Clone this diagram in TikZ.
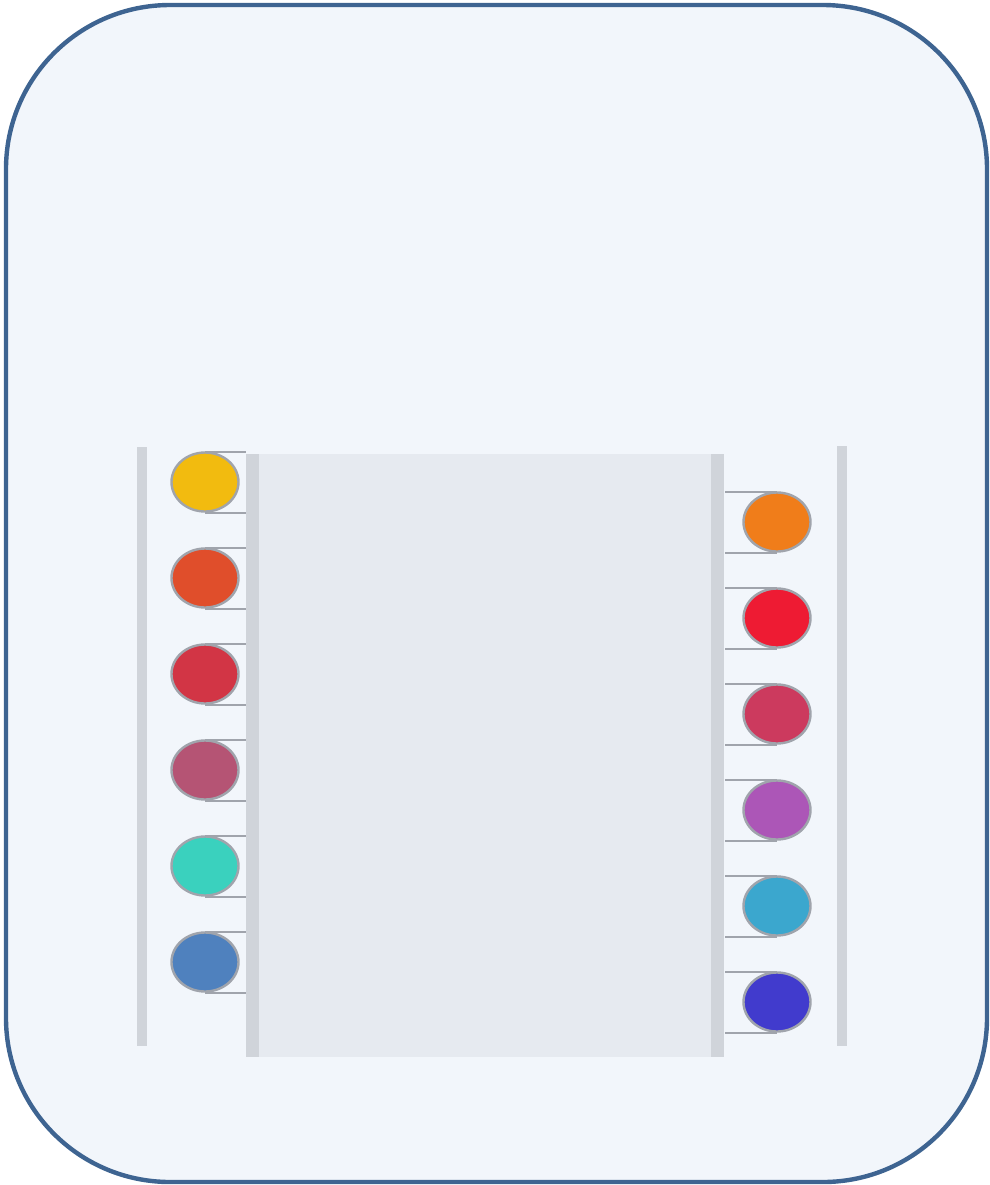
\documentclass[tikz,border=0pt]{standalone}
\usepackage{tikz}
\usetikzlibrary{positioning, shapes.geometric}
\definecolor{FrameBlue}{RGB}{62,100,145}
\definecolor{PanelBg}{RGB}{242,246,251}
\definecolor{RailGrey}{RGB}{208,212,218}
\definecolor{CoreGrey}{RGB}{230,234,240}
\definecolor{TieGrey}{RGB}{160,164,172}
% beads, left column
\definecolor{BeadLa}{RGB}{242,187,15}
\definecolor{BeadLb}{RGB}{224,78,43}
\definecolor{BeadLc}{RGB}{210,53,69}
\definecolor{BeadLd}{RGB}{181,84,116}
\definecolor{BeadLe}{RGB}{58,209,190}
\definecolor{BeadLf}{RGB}{79,129,190}
% beads, right column
\definecolor{BeadRa}{RGB}{240,125,26}
\definecolor{BeadRb}{RGB}{238,27,51}
\definecolor{BeadRc}{RGB}{204,58,94}
\definecolor{BeadRd}{RGB}{172,86,183}
\definecolor{BeadRe}{RGB}{59,167,206}
\definecolor{BeadRf}{RGB}{65,59,205}

\begin{document}
\begin{tikzpicture}[x=0.5pt, y=-0.5pt,
  rail/.style={fill=RailGrey, inner sep=0pt, anchor=north west},
  bead/.style={ellipse, draw=TieGrey, line width=1.2pt, minimum width=33.5pt, minimum height=29.5pt, inner sep=0pt},
  tie/.style={draw=TieGrey, line width=1pt}]
  \useasboundingbox (0,0) rectangle (990,1185);
  \draw[draw=FrameBlue, fill=PanelBg, line width=2.2pt, rounded corners=82pt] (6,5) rectangle (987,1182);

  % rails and core
  \node[rail, minimum width=5pt, minimum height=299.5pt] (outerL) at (137,447) {};
  \node[rail, minimum width=6.5pt, minimum height=301.5pt] (innerL) at (246,454) {};
  \node[fill=CoreGrey, inner sep=0pt, anchor=north west, minimum width=226pt,
    minimum height=301.5pt] (core) at (259,454) {};
  \node[rail, minimum width=6.5pt, minimum height=301.5pt] (innerR) at (711,454) {};
  \node[rail, minimum width=5pt, minimum height=300pt] (outerR) at (837,446) {};

  % left beads
  \foreach \c [count=\i] in {BeadLa,BeadLb,BeadLc,BeadLd,BeadLe,BeadLf} {
    \draw[tie] (205,386+96*\i-30) coordinate (lt\i) -- (lt\i -| innerL.west);
    \draw[tie] (205,386+96*\i+31) coordinate (lb\i) -- (lb\i -| innerL.west);
    \node[bead, fill=\c] (l\i) at (205,386+96*\i) {};
  }
  % right beads
  \foreach \c [count=\i] in {BeadRa,BeadRb,BeadRc,BeadRd,BeadRe,BeadRf} {
    \draw[tie] (777,426+96*\i-30) coordinate (rt\i) -- (rt\i -| innerR.east);
    \draw[tie] (777,426+96*\i+31) coordinate (rb\i) -- (rb\i -| innerR.east);
    \node[bead, fill=\c] (r\i) at (777,426+96*\i) {};
  }
\end{tikzpicture}
\end{document}
